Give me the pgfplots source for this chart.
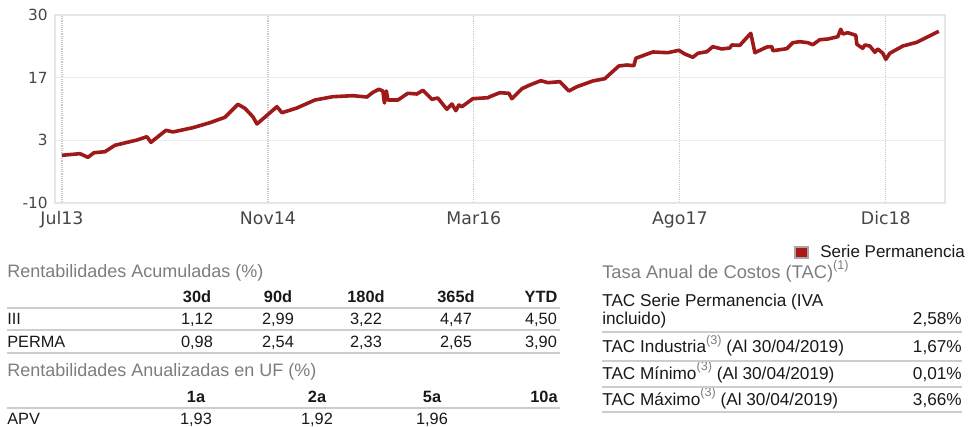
\documentclass[border=0pt]{standalone}
\usepackage{pgfplots}
\pgfplotsset{compat=1.18}
\usepackage{fontspec}
\setmainfont{Liberation Sans}
\newfontfamily\tickfont{DejaVu Sans}
\definecolor{linered}{RGB}{158,26,26}
\definecolor{legred}{RGB}{170,24,24}
\definecolor{framegray}{RGB}{230,230,230}
\definecolor{gridgray}{RGB}{236,236,236}
\definecolor{dotgray}{RGB}{200,200,200}
\definecolor{tickgray}{RGB}{70,70,70}
\definecolor{titlegray}{RGB}{125,125,125}
\definecolor{rulegray}{RGB}{205,205,205}
\definecolor{txt}{RGB}{25,25,25}
\newcommand{\sups}[1]{\raisebox{0.5em}{\fontsize{9.5}{10}\selectfont\color{titlegray}(#1)}}
\begin{document}
\begin{tikzpicture}
\path[use as bounding box] (0,0) rectangle (727.5pt,-320.25pt);
\begin{axis}[
  at={(41.25pt,-11.25pt)}, anchor=north west,
  scale only axis, width=667.5pt, height=141pt,
  xmin=-0.54, xmax=68.6, ymin=-10, ymax=30,
  xtick={0,16,32,48,64},
  xticklabels={Jul13,Nov14,Mar16,Ago17,Dic18},
  ytick={-10,3.3333,16.6667,30},
  yticklabels={-10,3,17,30},
  major tick length=0pt,
  axis line style={draw=framegray, line width=1.4pt},
  xmajorgrids, ymajorgrids,
  x grid style={dotgray, densely dotted, line width=0.9pt},
  y grid style={gridgray, line width=1.2pt},
  yticklabel style={font=\tickfont\fontsize{11.5}{12}\selectfont, text=tickgray, xshift=-2pt},
  xticklabel style={font=\tickfont\fontsize{13}{14}\selectfont, text=tickgray, yshift=-3pt},
  clip=false,
]
\addplot[linered, line width=2.7pt, line join=round] coordinates {
(0,0.15) (1.40,0.49) (2.02,-0.28) (2.49,0.70) (3.34,0.91) (4.12,2.28) (5.83,3.40) (6.60,4.11) (6.91,2.91) (8.08,5.47) (8.62,5.11) (10.17,6.02) (11.50,7.09) (12.66,8.23) (13.67,11.0) (14.21,10.15) (14.83,8.36) (15.15,6.81) (16.70,10.49) (17.09,9.21) (18.25,10.21) (19.65,11.91) (21.05,12.62) (22.60,12.83) (23.69,12.55) (24.16,13.55) (24.62,14.19) (24.93,13.83) (25.05,11.28) (25.20,13.83) (25.32,11.91) (26.10,11.91) (26.87,13.34) (27.57,13.19) (28.04,13.98) (28.74,12.06) (29.20,12.34) (29.90,9.94) (30.29,11.06) (30.60,9.64) (30.83,10.85) (31.07,10.49) (31.92,12.19) (33.09,12.40) (33.24,12.62) (34.02,13.47) (34.72,13.34) (34.95,12.19) (35.73,14.32) (36.35,15.11) (37.20,16.02) (37.75,15.60) (38.68,15.81) (39.38,13.83) (40.00,14.74) (41.24,15.96) (42.17,16.45) (43.26,19.15) (43.88,19.36) (44.43,19.21) (44.58,20.79) (45.90,22.13) (47.07,21.98) (47.92,22.49) (48.39,21.70) (49.01,21.00) (49.40,21.85) (50.10,22.19) (50.56,23.26) (51.26,22.77) (51.88,22.98) (52.04,23.62) (52.66,23.55) (53.51,26.11) (53.83,21.98) (54.76,23.19) (55.15,23.26) (55.22,22.40) (56.31,22.83) (56.78,24.11) (57.32,24.32) (57.94,24.11) (58.33,23.68) (58.87,24.74) (59.50,24.89) (60.27,25.38) (60.50,26.96) (60.66,25.96) (61.05,26.23) (61.67,25.68) (61.75,23.77) (62.21,22.91) (62.37,23.62) (62.76,23.40) (63.15,22.06) (63.38,22.77) (63.77,21.85) (64.00,20.57) (64.31,21.85) (65.32,23.40) (66.41,24.19) (68.12,26.53)
};
\end{axis}
\begin{scope}[x=0.75pt, y=-0.75pt]
% legend
\draw[fill=legred, draw=gray!70, line width=1.2pt] (795,247) rectangle (808,258);
\node[anchor=base west, inner sep=0, font=\fontsize{12.75}{14}\selectfont, text=txt] at (820,258) {Serie Permanencia};
% left table 1
\node[anchor=base west, inner sep=0, font=\fontsize{13.5}{15}\selectfont, text=titlegray] at (7,278) {Rentabilidades Acumuladas (\%)};
\begin{scope}[every node/.style={anchor=base, inner sep=0, font=\fontsize{12.25}{14}\selectfont, text=txt}]
\node[font=\fontsize{12.25}{14}\selectfont\bfseries] at (197,303) {30d};
\node[font=\fontsize{12.25}{14}\selectfont\bfseries] at (278,303) {90d};
\node[font=\fontsize{12.25}{14}\selectfont\bfseries] at (366,303) {180d};
\node[font=\fontsize{12.25}{14}\selectfont\bfseries] at (456,303) {365d};
\node[font=\fontsize{12.25}{14}\selectfont\bfseries] at (541,303) {YTD};
\node[anchor=base west] at (7,325) {III};
\node at (197,325) {1,12};
\node at (278,325) {2,99};
\node at (366,325) {3,22};
\node at (456,325) {4,47};
\node at (541,325) {4,50};
\node[anchor=base west] at (7,347) {PERMA};
\node at (197,347) {0,98};
\node at (278,347) {2,54};
\node at (366,347) {2,33};
\node at (456,347) {2,65};
\node at (541,347) {3,90};
\node[font=\fontsize{12.25}{14}\selectfont\bfseries] at (196,402) {1a};
\node[font=\fontsize{12.25}{14}\selectfont\bfseries] at (317,402) {2a};
\node[font=\fontsize{12.25}{14}\selectfont\bfseries] at (432,402) {5a};
\node[font=\fontsize{12.25}{14}\selectfont\bfseries] at (544,402) {10a};
\node[anchor=base west] at (7,424) {APV};
\node at (196,424) {1,93};
\node at (317,424) {1,92};
\node at (432,424) {1,96};
\end{scope}
\draw[rulegray, line width=1.5pt] (7,308.5) -- (560,308.5);
\draw[rulegray, line width=1.5pt] (7,330.5) -- (560,330.5);
\draw[rulegray, line width=1.5pt] (7,352.5) -- (560,352.5);
\node[anchor=base west, inner sep=0, font=\fontsize{13.5}{15}\selectfont, text=titlegray] at (7,376) {Rentabilidades Anualizadas en UF (\%)};
\draw[rulegray, line width=1.5pt] (7,407.5) -- (560,407.5);
% right panel
\node[anchor=base west, inner sep=0, font=\fontsize{13.75}{15}\selectfont, text=titlegray] at (602,279) {Tasa Anual de Costos (TAC)\raisebox{0.5em}{\fontsize{9.5}{10}\selectfont(1)}};
\begin{scope}[every node/.style={anchor=base west, inner sep=0, font=\fontsize{12.9}{14}\selectfont, text=txt}]
\node at (602,306) {TAC Serie Permanencia (IVA};
\node at (602,325) {incluido)};
\node[anchor=base east] at (962,325) {2,58\%};
\node at (602,353) {TAC Industria\sups{3} (Al 30/04/2019)};
\node[anchor=base east] at (962,353) {1,67\%};
\node at (602,379) {TAC Mínimo\sups{3} (Al 30/04/2019)};
\node[anchor=base east] at (962,379) {0,01\%};
\node at (602,405) {TAC Máximo\sups{3} (Al 30/04/2019)};
\node[anchor=base east] at (962,405) {3,66\%};
\end{scope}
\draw[rulegray, line width=1.5pt] (602,332) -- (962,332);
\draw[rulegray, line width=1.5pt] (602,361) -- (962,361);
\draw[rulegray, line width=1.5pt] (602,386.5) -- (962,386.5);
\draw[rulegray, line width=1.5pt] (602,412) -- (962,412);
\end{scope}
\end{tikzpicture}
\end{document}
